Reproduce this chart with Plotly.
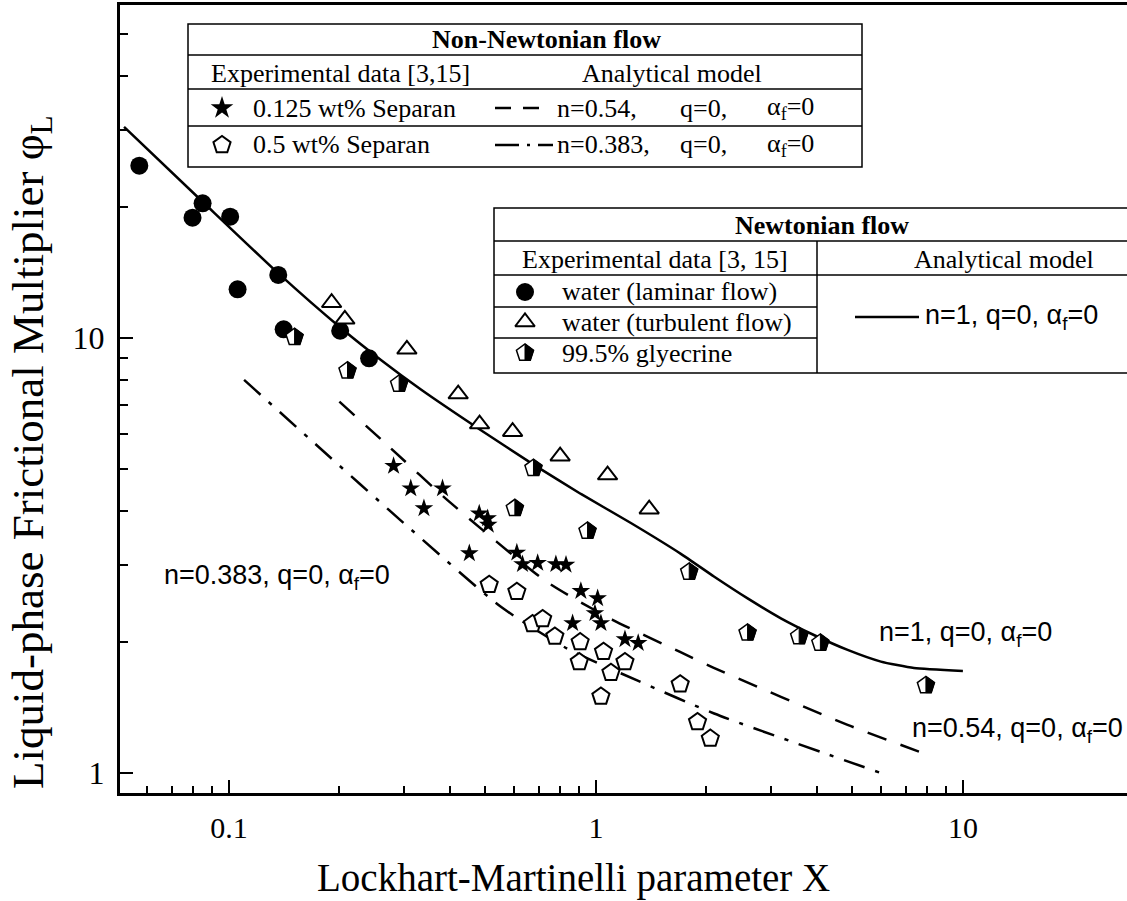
import math
import plotly.graph_objects as go

# ---------------- data ----------------
lam_x = [0.057, 0.0796, 0.0848, 0.1008, 0.1056, 0.1363, 0.141, 0.201, 0.241]
lam_y = [24.9, 18.9, 20.4, 19.0, 12.94, 13.96, 10.47, 10.39, 8.98]

turb_x = [0.1905, 0.207, 0.3055, 0.4215, 0.482, 0.593, 0.799, 1.076, 1.397]
turb_y = [12.05, 11.04, 9.42, 7.43, 6.34, 6.09, 5.35, 4.84, 4.04]

gly_x = [0.151, 0.2105, 0.291, 0.6015, 0.676, 0.949, 1.796, 2.59, 3.58, 4.09, 7.93]
gly_y = [10.04, 8.41, 7.84, 4.06, 5.02, 3.60, 2.90, 2.10, 2.06, 1.99, 1.59]

sep125_x = [0.281, 0.313, 0.382, 0.340, 0.481, 0.507, 0.509, 0.452, 0.609, 0.631,
            0.694, 0.778, 0.829, 0.910, 1.011, 0.994, 1.032, 0.864, 1.20, 1.304]
sep125_y = [5.08, 4.51, 4.51, 4.06, 3.95, 3.85, 3.72, 3.20, 3.21, 3.02,
            3.04, 3.02, 3.01, 2.62, 2.52, 2.33, 2.21, 2.21, 2.03, 1.99]

sep05_x = [0.512, 0.609, 0.672, 0.716, 0.773, 0.906, 0.901, 1.049, 1.20, 1.099,
           1.032, 1.697, 1.892, 2.05]
sep05_y = [2.71, 2.61, 2.20, 2.26, 2.06, 2.00, 1.80, 1.90, 1.80, 1.70,
           1.50, 1.60, 1.31, 1.20]

n1_x = [0.0518, 0.0848, 0.136, 0.2019, 0.2596, 0.3336, 0.4771, 0.6778, 0.9102,
        1.2455, 1.704, 2.097, 2.591, 3.192, 3.926, 4.852, 5.978, 7.355, 10.0]
n1_y = [30.56, 20.57, 14.11, 10.54, 8.90, 7.61, 6.20, 5.11, 4.38,
        3.755, 3.19, 2.83, 2.52, 2.268, 2.076, 1.918, 1.803, 1.743, 1.716]

n054_x = [0.20, 0.276, 0.394, 0.735, 1.11, 1.69, 2.08, 4.85, 7.59]
n054_y = [7.14, 5.58, 4.24, 2.75, 2.25, 1.90, 1.75, 1.29, 1.12]

n0383_x = [0.110, 0.171, 0.30, 0.551, 0.837, 1.30, 2.10, 5.98]
n0383_y = [8.01, 5.73, 3.75, 2.41, 1.93, 1.63, 1.37, 1.0]

x_tickvals = [0.1, 1, 10]
x_ticktext = ["0.1", "1", "10"]
x_minor = [0.06, 0.07, 0.08, 0.09, 0.2, 0.3, 0.4, 0.5, 0.6, 0.7, 0.8, 0.9,
           2, 3, 4, 5, 6, 7, 8, 9]
y_tickvals = [1, 10]
y_ticktext = ["1", "10"]
y_minor = [2, 3, 4, 5, 6, 7, 8, 9, 20, 30, 40, 50]

# ---------------- layout geometry ----------------
W, H = 1127, 901
L, R, T, B = 120, 1127, 5, 793
XDEC, YDEC = 367.0, 435.0
x0 = math.log10(0.0505)
y0 = -0.046
SERIF = "Liberation Serif"
SANS = "Liberation Sans"


def fx(px):
    return (px - L) / (R - L)


def fy(py):
    return (B - py) / (B - T)


def half_pent(r):
    pts = [(0, r), (0.951 * r, 0.309 * r), (0.588 * r, -0.809 * r), (0, -0.809 * r)]
    return "M " + " L ".join(f"{a:.2f},{b:.2f}" for a, b in pts) + " Z"


fig = go.Figure()

# model curves
fig.add_trace(go.Scatter(x=n1_x, y=n1_y, mode="lines",
                         line=dict(color="black", width=2.5, shape="spline", smoothing=0.5)))
fig.add_trace(go.Scatter(x=n054_x, y=n054_y, mode="lines",
                         line=dict(color="black", width=2.5, dash="20px,15px",
                                   shape="spline", smoothing=0.6)))
fig.add_trace(go.Scatter(x=n0383_x, y=n0383_y, mode="lines",
                         line=dict(color="black", width=2.5, dash="22px,11px,4px,11px",
                                   shape="spline", smoothing=0.6)))

# experimental points
fig.add_trace(go.Scatter(x=lam_x, y=lam_y, mode="markers",
                         marker=dict(symbol="circle", size=18, color="black")))
fig.add_trace(go.Scatter(x=turb_x, y=turb_y, mode="markers",
                         marker=dict(symbol="triangle-up", size=17, color="white",
                                     line=dict(color="black", width=2))))
fig.add_trace(go.Scatter(x=gly_x, y=gly_y, mode="markers",
                         marker=dict(symbol="pentagon", size=18, color="white",
                                     line=dict(color="black", width=1.5))))
fig.add_trace(go.Scatter(x=sep125_x, y=sep125_y, mode="markers",
                         marker=dict(symbol="star", size=14, color="black",
                                     line=dict(width=0))))
fig.add_trace(go.Scatter(x=sep05_x, y=sep05_y, mode="markers",
                         marker=dict(symbol="pentagon", size=18, color="white",
                                     line=dict(color="black", width=2))))

shapes = []
for gx, gy in zip(gly_x, gly_y):
    shapes.append(dict(type="path", xref="x", yref="y", xsizemode="pixel",
                       ysizemode="pixel", xanchor=gx, yanchor=gy, path=half_pent(9),
                       fillcolor="black", line=dict(color="black", width=1),
                       layer="above"))

# ---------------- legend tables ----------------
def hline(xa, xb, y, w=1.5):
    shapes.append(dict(type="line", xref="paper", yref="paper", x0=fx(xa), x1=fx(xb),
                       y0=fy(y), y1=fy(y), line=dict(color="black", width=w)))


def vline(x, ya, yb, w=1.5):
    shapes.append(dict(type="line", xref="paper", yref="paper", x0=fx(x), x1=fx(x),
                       y0=fy(ya), y1=fy(yb), line=dict(color="black", width=w)))


# Non-Newtonian box
shapes.append(dict(type="rect", xref="paper", yref="paper", x0=fx(188), x1=fx(862),
                   y0=fy(167), y1=fy(24), line=dict(color="black", width=1.5)))
hline(188, 862, 55)
hline(188, 862, 89)
hline(188, 862, 126)
shapes.append(dict(type="line", xref="paper", yref="paper", x0=fx(495), x1=fx(539),
                   y0=fy(108), y1=fy(108),
                   line=dict(color="black", width=2.5, dash="16px,12px")))
shapes.append(dict(type="line", xref="paper", yref="paper", x0=fx(495), x1=fx(553),
                   y0=fy(145), y1=fy(145),
                   line=dict(color="black", width=2.5, dash="24px,8px,3px,8px")))

# Newtonian box
shapes.append(dict(type="rect", xref="paper", yref="paper", x0=fx(494), x1=fx(1150),
                   y0=fy(373), y1=fy(208), line=dict(color="black", width=1.5)))
hline(494, 1150, 241)
hline(494, 1150, 275)
hline(494, 817, 307)
hline(494, 817, 338)
vline(817, 241, 373)
shapes.append(dict(type="line", xref="paper", yref="paper", x0=fx(855), x1=fx(919),
                   y0=fy(317), y1=fy(317), line=dict(color="black", width=2.5)))

# legend symbols on a pixel overlay axis
leg_x = [222, 222, 525, 525, 525]
leg_y = [108, 145, 292, 322, 353]
leg_sym = ["star", "pentagon", "circle", "triangle-up", "pentagon"]
leg_size = [17, 18, 18, 17, 18]
leg_lw = [0, 2, 0, 2, 1.5]
leg_col = ["black", "white", "black", "white", "white"]
for lx, ly, s, sz, lw, c in zip(leg_x, leg_y, leg_sym, leg_size, leg_lw, leg_col):
    fig.add_trace(go.Scatter(x=[lx], y=[ly], xaxis="x2", yaxis="y2", mode="markers",
                             marker=dict(symbol=s, size=sz, color=c,
                                         line=dict(color="black", width=lw))))
shapes.append(dict(type="path", xref="x2", yref="y2", xsizemode="pixel",
                   ysizemode="pixel", xanchor=525, yanchor=353, path=half_pent(9),
                   fillcolor="black", line=dict(color="black", width=1), layer="above"))

annotations = []


def txt(text, x, y, size=26, font=SERIF, anchor="center", angle=0):
    annotations.append(dict(text=text, x=fx(x), y=fy(y), xref="paper", yref="paper",
                            xanchor=anchor, yanchor="middle", showarrow=False,
                            textangle=angle,
                            font=dict(family=font, size=size, color="black")))


txt("<b>Non-Newtonian flow</b>", 546, 40)
txt("Experimental data [3,15]", 340, 73)
txt("Analytical model", 672, 73)
txt("0.125 wt% Separan", 251, 108, anchor="left")
txt("n=0.54,", 555, 108, anchor="left")
txt("q=0,", 678, 108, anchor="left")
txt("α<sub>f</sub>=0", 765, 108, anchor="left")
txt("0.5 wt% Separan", 251, 145, anchor="left")
txt("n=0.383,", 555, 145, anchor="left")
txt("q=0,", 678, 145, anchor="left")
txt("α<sub>f</sub>=0", 765, 145, anchor="left")

txt("<b>Newtonian flow</b>", 822, 226)
txt("Experimental data [3, 15]", 655, 259)
txt("Analytical model", 1004, 259)
txt("water (laminar flow)", 560, 291, anchor="left")
txt("water (turbulent flow)", 560, 322, anchor="left")
txt("99.5% glyecrine", 560, 353, anchor="left")
txt("n=1, q=0, α<sub>f</sub>=0", 923, 317, size=27, font=SANS, anchor="left")

# curve labels
txt("n=0.383, q=0, α<sub>f</sub>=0", 162, 577, size=27, font=SANS, anchor="left")
txt("n=1, q=0, α<sub>f</sub>=0", 877, 634, size=27, font=SANS, anchor="left")
txt("n=0.54, q=0, α<sub>f</sub>=0", 910, 730, size=27, font=SANS, anchor="left")

# axis titles
txt("Lockhart-Martinelli parameter X", 573, 878, size=39)
txt("Liquid-phase Frictional Multiplier φ<sub>L</sub>", 31, 452, size=45, angle=-90)

fig.update_layout(
    width=W, height=H,
    margin=dict(l=L, r=W - R, t=T, b=H - B, pad=0),
    paper_bgcolor="white", plot_bgcolor="white",
    showlegend=False,
    shapes=shapes, annotations=annotations,
    xaxis=dict(type="log", range=[x0, x0 + (R - L) / XDEC],
               showline=True, linecolor="black", linewidth=2.5, mirror=True,
               showgrid=False, zeroline=False,
               tickmode="array", tickvals=x_tickvals, ticktext=x_ticktext,
               ticks="inside", ticklen=13, tickwidth=1.5, tickcolor="black",
               ticklabelstandoff=6,
               tickfont=dict(family=SERIF, size=30, color="black"),
               minor=dict(tickmode="array", tickvals=x_minor, ticks="inside",
                          ticklen=7, tickwidth=1.5, tickcolor="black", showgrid=False)),
    yaxis=dict(type="log", range=[y0, y0 + (B - T) / YDEC],
               showline=True, linecolor="black", linewidth=3, mirror=False,
               showgrid=False, zeroline=False,
               tickmode="array", tickvals=y_tickvals, ticktext=y_ticktext,
               ticks="inside", ticklen=13, tickwidth=1.5, tickcolor="black",
               ticklabelstandoff=6,
               tickfont=dict(family=SERIF, size=32, color="black"),
               minor=dict(tickmode="array", tickvals=y_minor, ticks="inside",
                          ticklen=8, tickwidth=1.5, tickcolor="black", showgrid=False)),
    xaxis2=dict(overlaying="x", anchor="y2", range=[L, R], visible=False),
    yaxis2=dict(overlaying="y", anchor="x2", range=[B, T], visible=False),
)

fig.write_html("out.html", config={"displayModeBar": False},
               post_script="document.body.style.margin='0';document.body.style.overflow='hidden';")
